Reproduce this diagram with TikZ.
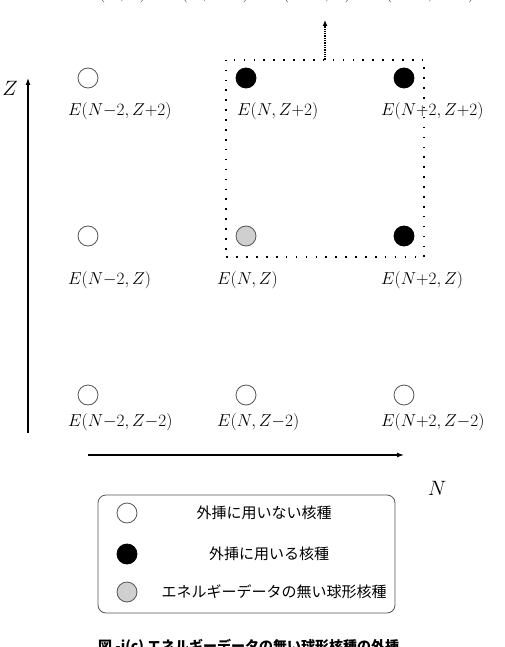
\documentclass[tikz,border=0pt]{standalone}
\usepackage{fontspec}
\newfontfamily\cjk{Noto Sans CJK JP}
\usetikzlibrary{arrows.meta,patterns}
\definecolor{rim}{HTML}{555555}
\definecolor{greydot}{HTML}{CFCFCF}
\tikzset{
  nuc/.style={circle,draw=rim,line width=0.8pt,minimum size=20pt,inner sep=0pt},
  known/.style={nuc,fill=white},
  used/.style={nuc,fill=black,draw=black},
  target/.style={nuc,fill=greydot},
  lab/.style={anchor=west,inner sep=0pt,font=\fontsize{19}{21}\selectfont},
  leg/.style={inner sep=0pt,font=\cjk\fontsize{15}{17}\selectfont},
  axis/.style={line width=1.2pt,-{Latex[length=7pt,width=5pt]}},
  grp/.style={line width=1.6pt,dash pattern=on 1.6pt off 8.3pt}
}
\begin{document}
\begin{tikzpicture}[x=1pt,y=-1pt]
\useasboundingbox (0,0) rectangle (504,647);
% top formula (partly cut by the page edge)
\node[anchor=base,inner sep=0pt,font=\fontsize{16}{18}\selectfont] (formula) at (280,-1)
  {$E(N,Z)=E(N,Z{+}2)+E(N{+}2,Z)-E(N{+}2,Z{+}2)$};
% axes
\coordinate (yb) at (28,433);
\coordinate (yt) at (28,78);
\coordinate (xl) at (88,455);
\coordinate (xr) at (404,455);
\draw[axis] (yb) -- (yt);
\draw[axis] (xl) -- (xr);
\node[font=\fontsize{20}{22}\selectfont,inner sep=0pt] (zlab) at (10,88) {$Z$};
\node[font=\fontsize{20}{22}\selectfont,inner sep=0pt] (nlab) at (437,488) {$N$};
% nuclides
\node[known]  (a1) at (88,78) {};
\node[used]   (a2) at (246,78) {};
\node[used]   (a3) at (404,78) {};
\node[known]  (b1) at (88,236) {};
\node[target] (b2) at (246,236) {};
\node[used]   (b3) at (404,236) {};
\node[known]  (c1) at (88,395) {};
\node[known]  (c2) at (246,395) {};
\node[known]  (c3) at (404,395) {};
% labels
\node[lab] (la1) at (68,111) {$E(N{-}2,Z{+}2)$};
\node[lab] (la2) at (237,111) {$E(N,Z{+}2)$};
\node[lab] (la3) at (381,111) {$E(N{+}2,Z{+}2)$};
\node[lab] (lb1) at (68,280) {$E(N{-}2,Z)$};
\node[lab] (lb2) at (217,280) {$E(N,Z)$};
\node[lab] (lb3) at (381,280) {$E(N{+}2,Z)$};
\node[lab] (lc1) at (68,422) {$E(N{-}2,Z{-}2)$};
\node[lab] (lc2) at (217,422) {$E(N,Z{-}2)$};
\node[lab] (lc3) at (381,422) {$E(N{+}2,Z{-}2)$};
% group box and arrow
\node[draw=none,minimum width=198pt,minimum height=197pt,inner sep=0pt] (grp) at (325,158.5) {};
\draw[grp] (grp.north west) rectangle (grp.south east);
\coordinate (tip) at (325,20);
\draw[line width=1.3pt,densely dotted,-{Latex[length=6pt,width=5pt]}] (grp.north) -- (tip);
% legend
\node[draw=rim,line width=0.8pt,rounded corners=8pt,minimum width=297pt,minimum height=118pt,inner sep=0pt] (legbox) at (246.5,554) {};
\node[known]  (k1) at (127,513) {};
\node[used]   (k2) at (127,554) {};
\node[target] (k3) at (127,592) {};
\node[leg] (t1) at (264,513) {外挿に用いない核種};
\node[leg] (t2) at (269,554) {外挿に用いる核種};
\node[leg] (t3) at (274,592) {エネルギーデータの無い球形核種};
% caption (cut by the page edge)
\node[anchor=base west,inner sep=0pt,font=\cjk\bfseries\fontsize{14}{16}\selectfont] (cap) at (98,651)
  {図 -i(c) エネルギーデータの無い球形核種の外挿};
\end{tikzpicture}
\end{document}
